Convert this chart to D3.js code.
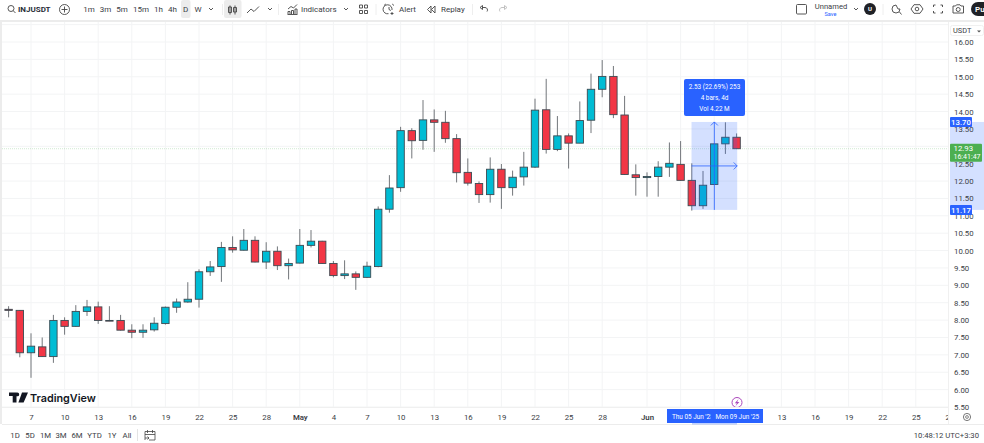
<!DOCTYPE html>
<html><head><meta charset="utf-8">
<script src="https://cdn.jsdelivr.net/npm/d3@7"></script>
<style>html,body{margin:0;padding:0;background:#fff;overflow:hidden}svg{display:block}text{font-family:Roboto,"Noto Sans",sans-serif;fill:#3a3d45}</style>
</head><body><svg id="c" width="984" height="443"></svg>
<script>
const dates=["Apr 5","Apr 6","Apr 7","Apr 8","Apr 9","Apr 10","Apr 11","Apr 12","Apr 13","Apr 14","Apr 15","Apr 16","Apr 17","Apr 18","Apr 19","Apr 20","Apr 21","Apr 22","Apr 23","Apr 24","Apr 25","Apr 26","Apr 27","Apr 28","Apr 29","Apr 30","May 1","May 2","May 3","May 4","May 5","May 6","May 7","May 8","May 9","May 10","May 11","May 12","May 13","May 14","May 15","May 16","May 17","May 18","May 19","May 20","May 21","May 22","May 23","May 24","May 25","May 26","May 27","May 28","May 29","May 30","May 31","Jun 1","Jun 2","Jun 3","Jun 4","Jun 5","Jun 6","Jun 7","Jun 8","Jun 9"];
const opens=[8.31,8.28,7.06,7.23,6.95,7.99,7.82,8.25,8.38,7.99,7.99,7.71,7.65,7.72,7.90,8.37,8.52,8.60,9.39,9.54,10.09,10.01,10.295,9.67,9.98,9.565,9.64,10.15,10.27,9.63,9.28,9.33,9.23,9.54,11.19,11.81,13.45,13.17,13.76,13.69,13.22,12.25,11.93,11.61,12.34,11.81,12.12,12.40,14.05,12.91,13.30,13.09,13.75,14.64,15.01,13.90,12.18,12.10,12.13,12.40,12.48,12.02,11.29,11.90,13.07,13.26];
const highs=[8.40,8.29,7.62,7.50,8.15,8.08,8.43,8.58,8.53,8.40,8.15,7.88,7.88,8.08,8.39,8.62,9.09,9.46,9.70,10.25,10.41,10.62,10.41,10.24,10.12,9.77,10.62,10.59,10.28,9.70,9.72,9.40,9.68,11.27,12.17,13.56,13.52,14.33,14.06,14.02,13.35,12.65,11.99,12.68,12.49,12.30,12.84,14.37,14.94,13.87,13.37,14.29,15.09,15.48,15.31,14.45,12.48,12.25,12.57,13.11,13.15,12.51,12.29,13.08,13.69,13.37];
const lows=[8.08,6.93,6.34,6.94,6.77,7.58,7.81,8.12,7.89,7.97,7.70,7.48,7.49,7.67,7.87,8.21,8.50,8.36,9.27,9.10,9.94,10.00,9.66,9.47,9.44,9.17,9.63,10.09,9.62,9.23,9.18,8.87,9.21,9.52,11.09,11.69,12.65,12.90,12.84,13.10,11.96,11.87,11.37,11.38,11.20,11.58,11.87,12.38,12.79,12.86,12.36,13.09,13.38,14.41,13.81,12.18,11.58,11.55,11.55,12.12,12.01,11.15,11.20,11.89,12.78,12.92];
const closes=[8.28,7.06,7.25,6.95,7.99,7.82,8.25,8.38,7.99,7.98,7.71,7.65,7.71,7.91,8.37,8.52,8.60,9.39,9.53,10.09,10.02,10.295,9.67,9.98,9.565,9.63,10.15,10.27,9.63,9.28,9.33,9.23,9.55,11.19,11.80,13.45,13.16,13.76,13.69,13.22,12.24,11.94,11.61,12.34,11.81,12.11,12.40,14.04,12.91,13.30,13.09,13.74,14.64,15.01,13.91,12.19,12.10,12.13,12.40,12.51,12.02,11.29,11.88,13.07,13.26,12.93];
const priceTicks=[5.5,6,6.5,7,7.5,8,8.5,9,9.5,10,10.5,11,11.5,12,12.5,13,13.5,14,14.5,15,15.5,16];
const timeTickDays=[2,5,8,11,14,17,20,23,26,29,32,35,38,41,44,47,50,53,57,69,72,75,78,81,84];
const timeTickLabels=["7","10","13","16","19","22","25","28","May","4","7","10","13","16","19","22","25","28","Jun","13","16","19","22","25","28"];
const boldLabels=["May","Jun"];
const measureRange={fromDay:61,toDay:65,top:13.70,bottom:11.17};
const lastPrice=12.93;
const topItems=[["1m",89],["3m",105.5],["5m",122],["15m",141],["1h",158.5],["4h",172.5],["D",185.5],["W",198]];
const rangeItems=[["1D",15],["5D",30],["1M",45.5],["3M",61],["6M",77],["YTD",94.5],["1Y",112],["All",127]];

const BLUE="#2962ff",TEAL="#00bcd4",RED="#f23645",GRID="#f3f4f5",EDGE="#3c4a52",WICK="#72767a";
const svg=d3.select("#c");
const x=d3.scaleLinear().domain([0,1]).range([8.6,19.8]);
const y=d3.scaleLinear().domain([16,5.5]).range([42,407]);
const defs=svg.append("defs");
defs.append("clipPath").attr("id","pane").append("rect").attr("x",2).attr("y",22).attr("width",946).attr("height",385);
defs.append("clipPath").attr("id","timeclip").append("rect").attr("x",2).attr("y",407).attr("width",946).attr("height",17);
defs.append("clipPath").attr("id","startclip").append("rect").attr("x",667).attr("y",409).attr("width",44).attr("height",14);

// grid
const grid=svg.append("g").attr("clip-path","url(#pane)");
grid.selectAll(".v").data(timeTickDays.concat([60,63,66])).join("line").attr("x1",d=>x(d)).attr("x2",d=>x(d)).attr("y1",22).attr("y2",407).attr("stroke",GRID);
grid.selectAll(".h").data(priceTicks.concat([16.5])).join("line").attr("x1",2).attr("x2",948).attr("y1",d=>y(d)).attr("y2",d=>y(d)).attr("stroke",GRID);
// last price line
grid.append("line").attr("x1",2).attr("x2",948).attr("y1",y(lastPrice)).attr("y2",y(lastPrice)).attr("stroke","#4caf50").attr("stroke-opacity",.25).attr("stroke-dasharray","1 1");

// candles
const idx=d3.range(dates.length);
const cg=svg.append("g").attr("clip-path","url(#pane)");
cg.selectAll(".w").data(idx).join("line").attr("x1",i=>x(i)).attr("x2",i=>x(i)).attr("y1",i=>y(highs[i])).attr("y2",i=>y(lows[i])).attr("stroke",WICK).attr("stroke-width",1);
cg.selectAll(".b").data(idx).join("rect")
 .attr("x",i=>x(i)-3.7).attr("width",7.4)
 .attr("y",i=>y(Math.max(opens[i],closes[i])))
 .attr("height",i=>Math.max(.7,Math.abs(y(opens[i])-y(closes[i]))))
 .attr("fill",i=>closes[i]>=opens[i]?TEAL:RED).attr("stroke",EDGE).attr("stroke-width",.9);

// watermark
const wm=svg.append("g").attr("transform","translate(9,392.5)");
wm.append("path").attr("d","M0 0H7.5V10H3.7V3.6H0Z M8.3 0a1.9 1.9 0 1 1 0 3.8a1.9 1.9 0 1 1 0-3.8Z M13 0H19L14.6 10H9.4Z").attr("fill","#131722");
wm.append("text").attr("x",21).attr("y",9.5).attr("font-size",10.8).attr("font-weight",600).style("font-family","Inter,Roboto,sans-serif").style("fill","#131722").text("TradingView");

// measure overlay
const mx0=x(measureRange.fromDay)-0.3,mx1=x(measureRange.toDay)+0.6,my0=y(measureRange.top),my1=y(measureRange.bottom);
const ms=svg.append("g");
ms.append("rect").attr("x",mx0).attr("y",my0).attr("width",mx1-mx0).attr("height",my1-my0).attr("fill",BLUE).attr("fill-opacity",.2);
const mid=(mx0+mx1)/2,mh=(my0+my1)/2;
ms.append("path").attr("d",`M${mid} ${my1}V${my0}M${mid-3.5} ${my0+3.5}L${mid} ${my0}L${mid+3.5} ${my0+3.5}M${mx0} ${mh}H${mx1}M${mx1-3.5} ${mh-3.5}L${mx1} ${mh}L${mx1-3.5} ${mh+3.5}`).attr("fill","none").attr("stroke",BLUE).attr("stroke-opacity",.8).attr("stroke-width",1);
ms.append("rect").attr("x",684).attr("y",79).attr("width",61).attr("height",37).attr("rx",2).attr("fill",BLUE);
[["2.53 (22.69%) 253",89],["4 bars, 4d",100],["Vol 4.22 M",110.5]].forEach(([t,yy])=>ms.append("text").attr("x",714.5).attr("y",yy).attr("text-anchor","middle").attr("font-size",6.4).style("fill","#fff").text(t));

// bolt
svg.append("circle").attr("cx",737).attr("cy",402.5).attr("r",5).attr("fill","#fff").attr("stroke","#ab47bc").attr("stroke-width",1);
svg.append("path").attr("d","M738.5 399L734.8 403.2H736.9L735.6 406L739.4 401.9H737.2Z").attr("fill","#ab47bc");

// frame
svg.append("rect").attr("x",0).attr("y",20).attr("width",984).attr("height",2).attr("fill","#ececec");
svg.append("rect").attr("x",0).attr("y",20).attr("width",2).attr("height",404).attr("fill","#ececec");
svg.append("line").attr("x1",2).attr("x2",984).attr("y1",424.5).attr("y2",424.5).attr("stroke","#ececec");
svg.append("line").attr("x1",2).attr("x2",948).attr("y1",407.5).attr("y2",407.5).attr("stroke","#f0f0f0");
svg.append("line").attr("x1",948.5).attr("x2",948.5).attr("y1",22).attr("y2",424).attr("stroke","#f0f0f0");

// price axis
svg.append("rect").attr("x",950).attr("y",my0).attr("width",34).attr("height",my1-my0).attr("fill",BLUE).attr("fill-opacity",.2);
const py=svg.append("g").attr("transform","translate(949,0)").call(d3.axisRight(y).tickValues(priceTicks).tickFormat(d3.format(".2f")).tickSize(0).tickPadding(5));
py.select(".domain").remove();
py.selectAll("text").attr("font-size",7.8).style("font-family","Roboto,sans-serif").style("fill","#3a3d45");
svg.append("rect").attr("x",950.5).attr("y",25.5).attr("width",33).attr("height",10).attr("rx",2).attr("fill","#fff").attr("stroke","#f0f0f0");
svg.append("text").attr("x",953).attr("y",33).attr("font-size",7.4).text("USDT");
svg.append("path").attr("d","M977 30.5h4l-2 2z").attr("fill","#555");
[[measureRange.top],[measureRange.bottom]].forEach(([v])=>{
  svg.append("rect").attr("x",950).attr("y",y(v)-5).attr("width",22).attr("height",10).attr("rx",1).attr("fill",BLUE);
  svg.append("text").attr("x",961).attr("y",y(v)+3).attr("text-anchor","middle").attr("font-size",7.8).attr("font-weight",500).style("fill","#fff").text(d3.format(".2f")(v));
});
svg.append("rect").attr("x",950).attr("y",y(lastPrice)-5).attr("width",32).attr("height",18).attr("rx",1).attr("fill","#4caf50");
svg.append("text").attr("x",953.5).attr("y",y(lastPrice)+2.5).attr("font-size",7.8).style("fill","#fff").text(d3.format(".2f")(lastPrice));
svg.append("text").attr("x",953.5).attr("y",y(lastPrice)+10.5).attr("font-size",7).style("fill","#fff").text("16:41:47");

// time axis
const tclip=svg.append("g").attr("clip-path","url(#timeclip)");
const tg=tclip.append("g").attr("transform","translate(0,407)");
tg.call(d3.axisBottom(x).tickValues(timeTickDays).tickFormat(d=>timeTickLabels[timeTickDays.indexOf(d)]).tickSize(0).tickPadding(7));
tg.select(".domain").remove();
tg.selectAll("text").attr("font-size",7.8).style("font-family","Roboto,sans-serif").style("fill","#3a3d45").attr("font-weight",d=>boldLabels.includes(timeTickLabels[timeTickDays.indexOf(d)])?600:400);
svg.append("rect").attr("x",667).attr("y",409).attr("width",96).attr("height",14).attr("fill",BLUE);
svg.append("rect").attr("x",692).attr("y",423).attr("width",45).attr("height",1.5).attr("fill",BLUE).attr("fill-opacity",.3);
svg.append("text").attr("x",672).attr("y",419).attr("font-size",6.4).attr("clip-path","url(#startclip)").style("fill","#fff").text("Thu 05 Jun '25");
svg.append("text").attr("x",715.5).attr("y",419).attr("font-size",6.4).style("fill","#fff").text("Mon 09 Jun '25");
svg.append("circle").attr("cx",967).attr("cy",417).attr("r",3.6).attr("fill","none").attr("stroke","#555").attr("stroke-width",.8);
svg.append("circle").attr("cx",967).attr("cy",417).attr("r",1.4).attr("fill","none").attr("stroke","#555").attr("stroke-width",.7);

// bottom bar
rangeItems.forEach(([t,cx])=>svg.append("text").attr("x",cx).attr("y",438).attr("text-anchor","middle").attr("font-size",7.8).text(t));
svg.append("line").attr("x1",137.5).attr("x2",137.5).attr("y1",429).attr("y2",441).attr("stroke","#e4e4e4");
svg.append("path").attr("d","M145 431.5H155V440H149M145 440V431.5M145 434.5H155M147.5 430V433M152.5 430V433M145 438H149M147.5 436.5L149 438L147.5 439.5").attr("fill","none").attr("stroke","#444").attr("stroke-width",.8);
svg.append("text").attr("x",979).attr("y",438).attr("text-anchor","end").attr("font-size",7.7).text("10:48:12 UTC+3:30");

// top bar
svg.append("rect").attr("x",181).attr("y",0).attr("width",9.5).attr("height",18).attr("rx",2).attr("fill","#ececec");
svg.append("rect").attr("x",224).attr("y",0).attr("width",17.5).attr("height",18).attr("rx",2).attr("fill","#ececec");
const ic=svg.append("g").attr("fill","none").attr("stroke","#444").attr("stroke-width",.9);
ic.append("circle").attr("cx",11).attr("cy",8.5).attr("r",3);
ic.append("path").attr("d","M13.2 10.7L15.5 13");
svg.append("text").attr("x",18).attr("y",12).attr("font-size",8).attr("font-weight",700).style("fill","#2a2e39").text("INJUSDT");
ic.append("circle").attr("cx",64.5).attr("cy",9.5).attr("r",5);
ic.append("path").attr("d","M64.5 6.5V12.5M61.5 9.5H67.5");
topItems.forEach(([t,cx])=>svg.append("text").attr("x",cx).attr("y",12).attr("text-anchor","middle").attr("font-size",8).text(t));
const chev=cx=>ic.append("path").attr("d",`M${cx-2} 8L${cx} 10L${cx+2} 8`);
[211,270,346,856].forEach(chev);
[[222.5],[278.5],[376],[472.5],[883]].forEach(([sx])=>svg.append("line").attr("x1",sx).attr("x2",sx).attr("y1",4).attr("y2",15).attr("stroke","#eee"));
ic.append("path").attr("d","M230 5.5V14.5M230 7H228.5V12.5H231.5V7H230M235 5.5V14.5M235 7.5H233.5V12H236.5V7.5H235");
ic.append("path").attr("d","M247 13L251 9L254 11.5L259 6.5");
ic.append("path").attr("d","M287.5 14.5H297.5M288 14V11.5H290V14M291.5 14V10.5H293.5V14M295 14V9H297V14M288 9L291 6.5L293.5 8L297 4.5");
svg.append("text").attr("x",301).attr("y",12).attr("font-size",8).text("Indicators");
ic.append("path").attr("d","M359.5 5h3v3h-3zM364.5 5h3v3h-3zM359.5 10.5h3v3h-3zM364.5 10.5h3v3h-3z");
ic.append("path").attr("d","M392 10A4.5 4.5 0 1 0 388.5 13.7M389 7V9.5L390.8 10.5M384 5.5L385.8 4M394 5.5L392.2 4M392 12V15M390.5 13.5H393.5");
svg.append("text").attr("x",399).attr("y",12).attr("font-size",8).text("Alert");
ic.append("path").attr("d","M431 6L427.5 9.5L431 13ZM435 6L431.5 9.5L435 13Z");
svg.append("text").attr("x",441).attr("y",12).attr("font-size",8).text("Replay");
ic.append("path").attr("d","M480 7.5L482.5 5.5V9.5ZM482.5 7.5H485A2.5 2.5 0 0 1 487 11.5");
ic.append("path").attr("d","M507 7.5L504.5 5.5V9.5ZM504.5 7.5H502A2.5 2.5 0 0 0 500 11.5").attr("stroke","#bbb");
svg.append("rect").attr("x",796.5).attr("y",4.5).attr("width",10).attr("height",9.5).attr("rx",1).attr("fill","none").attr("stroke","#444").attr("stroke-width",.9);
svg.append("text").attr("x",831).attr("y",9).attr("text-anchor","middle").attr("font-size",7.6).text("Unnamed");
svg.append("text").attr("x",830.5).attr("y",15.5).attr("text-anchor","middle").attr("font-size",5.6).style("fill",BLUE).text("Save");
svg.append("circle").attr("cx",870).attr("cy",9).attr("r",6).attr("fill","#1f2126");
svg.append("text").attr("x",870).attr("y",11).attr("text-anchor","middle").attr("font-size",6).attr("font-weight",700).style("fill","#fff").text("U");
ic.append("path").attr("d","M896 5A4 4 0 1 0 900 9M896 5L898 9H900M899.5 12L901.5 14.5");
ic.append("path").attr("d","M914 4.7H920L923 9L920 13.3H914L911 9Z");
ic.append("circle").attr("cx",917).attr("cy",9).attr("r",1.8);
ic.append("path").attr("d","M933.5 7V5H935.5M940.5 5H942.5V7M942.5 11V13H940.5M935.5 13H933.5V11");
ic.append("path").attr("d","M953 6H955.5L956.5 4.8H960L961 6H963.5V13H953Z");
ic.append("circle").attr("cx",958.2).attr("cy",9.5).attr("r",2);
svg.append("rect").attr("x",971).attr("y",2).attr("width",30).attr("height",14).attr("rx",7).attr("fill","#1f2126");
svg.append("text").attr("x",975).attr("y",12).attr("font-size",8).attr("font-weight",600).style("fill","#fff").text("Pu");
</script></body></html>
